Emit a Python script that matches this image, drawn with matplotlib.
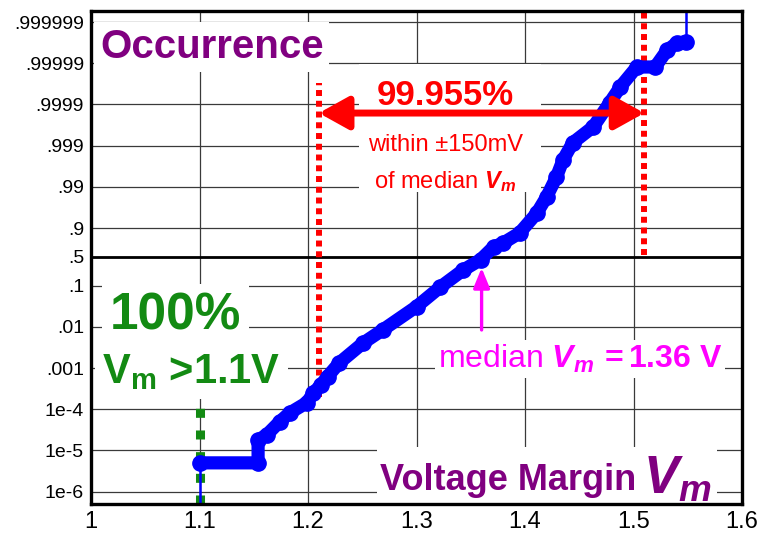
import numpy as np
import matplotlib
matplotlib.use("Agg")
import matplotlib.pyplot as plt
from matplotlib.patches import Rectangle

plt.rcParams["font.family"] = ["Liberation Sans", "DejaVu Sans"]
plt.rcParams["mathtext.fontset"] = "custom"
plt.rcParams["mathtext.rm"] = "Liberation Sans"
plt.rcParams["mathtext.it"] = "Liberation Sans:italic"
plt.rcParams["mathtext.bf"] = "Liberation Sans:bold"
plt.rcParams["mathtext.bfit"] = "Liberation Sans:italic:bold"

# Cumulative occurrence of the voltage margin
margin_v = [1.100, 1.154, 1.154, 1.162, 1.174, 1.183, 1.199, 1.205, 1.212, 1.218,
            1.229, 1.251, 1.269, 1.300, 1.322, 1.343, 1.359, 1.371, 1.380, 1.395,
            1.411, 1.420, 1.429, 1.435, 1.444, 1.463, 1.478, 1.488, 1.503, 1.520,
            1.531, 1.540, 1.548]
occurrence = [5.0e-6, 5.0e-6, 1.8e-5, 2.4e-5, 5.0e-5, 8.1e-5, 1.45e-4, 2.5e-4, 3.9e-4, 6.2e-4,
              1.35e-3, 4.1e-3, 8.5e-3, 0.031, 0.093, 0.317, 0.46, 0.637, 0.694, 0.831,
              0.957, 0.9826, 0.99425, 0.99776, 0.99915, 0.999653, 0.999909, 0.999963, 0.9999877, 0.9999877,
              0.9999952, 0.9999968, 0.9999970]

median_v = 1.36
window_v = 0.150
within_pct = "99.955%"
min_v = 1.1

x_ticks = [1.0, 1.1, 1.2, 1.3, 1.4, 1.5, 1.6]
x_tick_labels = ["1", "1.1", "1.2", "1.3", "1.4", "1.5", "1.6"]
y_ticks = [1e-6, 1e-5, 1e-4, 1e-3, 0.01, 0.1, 0.5, 0.9, 0.99, 0.999, 0.9999, 0.99999, 0.999999]
y_tick_labels = ["1e-6", "1e-5", "1e-4", ".001", ".01", ".1", ".5", ".9", ".99", ".999",
                 ".9999", ".99999", ".999999"]

BLUE = "#0000ff"
RED = "#ff0000"
MAGENTA = "#ff00ff"
GREEN = "#138a13"
PURPLE = "#800080"


# Probability axis: decades in both tails, linear across the centre
def prob_forward(p):
    p = np.clip(np.asarray(p, dtype=float), 1e-15, 1 - 1e-15)
    with np.errstate(all="ignore"):
        lo = np.log10(p) + 0.3
        hi = -np.log10(1 - p) - 0.3
    mid = (p - 0.5) * 1.75
    return np.where(p <= 0.1, lo, np.where(p >= 0.9, hi, mid))


def prob_inverse(u):
    u = np.asarray(u, dtype=float)
    with np.errstate(all="ignore"):
        lo = 10 ** (u - 0.3)
        hi = 1 - 10 ** (-(u + 0.3))
    mid = 0.5 + u / 1.75
    return np.where(u <= -0.7, lo, np.where(u >= 0.7, hi, mid))


fig = plt.figure(figsize=(7.71, 5.38), dpi=100)
ax = fig.add_axes([91 / 771, 34 / 538, 651 / 771, 493 / 538])
ax.set_yscale("function", functions=(prob_forward, prob_inverse))
ax.set_xlim(1.0, 1.6)
ax.set_ylim(float(prob_inverse(-6.0)), float(prob_inverse(5.97)))

ax.set_xticks(x_ticks)
ax.set_xticklabels(x_tick_labels, fontsize=17)
ax.set_yticks(y_ticks)
ax.set_yticklabels(y_tick_labels, fontsize=14)
ax.minorticks_off()
ax.tick_params(axis="both", length=0)
ax.tick_params(axis="y", pad=5)
ax.tick_params(axis="x", pad=5)

ax.set_axisbelow(True)
ax.grid(True, color="#3a3a3a", linewidth=0.9)
ax.axhline(0.5, color="black", linewidth=2.0, zorder=0.8)
for s in ax.spines.values():
    s.set_linewidth(2.4)
    s.set_color("black")
    s.set_zorder(5)

# white panels behind the annotation blocks
ax.add_patch(Rectangle((0.412, 0.633), 0.279, 0.259, transform=ax.transAxes,
                       facecolor="white", edgecolor="none", zorder=1))
ax.add_patch(Rectangle((0.439, 0.0), 0.523, 0.116, transform=ax.transAxes,
                       facecolor="white", edgecolor="none", zorder=1))

# +/- window around the median
ax.axvline(median_v - window_v, ymin=0.217, ymax=0.854, color=RED, lw=4.3,
           linestyle=(0, (1.0, 0.8)), dash_capstyle="butt", zorder=2)
ax.axvline(median_v + window_v, ymin=0.505, ymax=1.0, color=RED, lw=4.3,
           linestyle=(0, (1.0, 0.8)), dash_capstyle="butt", zorder=2)

# lower bound marker
ax.axvline(min_v, ymin=0.0, ymax=0.215, color=GREEN, lw=6.5,
           linestyle=(0, (1.0, 1.4)), dash_capstyle="butt", zorder=2)

# measured distribution
y0, y1 = ax.get_ylim()
ax.plot([margin_v[0], margin_v[0]], [y0, occurrence[0]], color=BLUE, lw=1.8, zorder=3)
ax.plot([margin_v[-1], margin_v[-1]], [occurrence[-1], y1], color=BLUE, lw=1.8, zorder=3)
ax.plot(margin_v, occurrence, color=BLUE, lw=9.5, solid_capstyle="round",
        solid_joinstyle="round", marker="o", markersize=11, zorder=3)

# spread arrow and text
ax.annotate("", xy=(median_v - window_v, 0.793), xytext=(median_v + window_v, 0.793),
            xycoords=("data", "axes fraction"), textcoords=("data", "axes fraction"),
            arrowprops=dict(arrowstyle="<|-|>,head_length=0.9,head_width=0.5",
                            mutation_scale=20, lw=5, color=RED, shrinkA=0, shrinkB=0),
            zorder=4)
ax.text(0.544, 0.828, within_pct, transform=ax.transAxes, ha="center", va="center",
        fontsize=25, fontweight="bold", color=RED, zorder=4)
ax.text(0.544, 0.728, "within \u00b1150mV", transform=ax.transAxes, ha="center",
        va="center", fontsize=17, color=RED, zorder=4)
ax.text(0.544, 0.655, r"of median $\mathbfit{V}_{\mathbfit{m}}$", transform=ax.transAxes,
        ha="center", va="center", fontsize=17, color=RED, zorder=4)

# median marker
ax.annotate("", xy=(median_v, 0.479), xytext=(median_v, 0.353),
            xycoords=("data", "axes fraction"), textcoords=("data", "axes fraction"),
            arrowprops=dict(arrowstyle="-|>,head_length=1.1,head_width=0.45",
                            mutation_scale=11, lw=2.4, color=MAGENTA, shrinkA=0, shrinkB=0),
            zorder=4)
ax.text(0.533, 0.276, r"median $\mathbfit{V}_{\mathbfit{m}}\,\mathbf{=1.36\ V}$",
        transform=ax.transAxes, ha="left", va="baseline", fontsize=23, color=MAGENTA,
        bbox=dict(facecolor="white", edgecolor="none", pad=2), zorder=4)

# titles inside the frame
ax.text(0.014, 0.927, "Occurrence", transform=ax.transAxes, ha="left", va="center",
        fontsize=29, fontweight="bold", color=PURPLE,
        bbox=dict(facecolor="white", edgecolor="none", pad=4), zorder=4)
ax.text(0.444, 0.028, "Voltage Margin", transform=ax.transAxes, ha="left",
        va="baseline", fontsize=26, fontweight="bold", color=PURPLE, zorder=4)
ax.text(0.848, 0.022, r"$\mathbfit{V}_{\mathbfit{m}}$", transform=ax.transAxes,
        ha="left", va="baseline", fontsize=38, color=PURPLE, zorder=4)

# lower-bound statement
ax.text(0.029, 0.353, "100%", transform=ax.transAxes, ha="left", va="baseline",
        fontsize=37, fontweight="bold", color=GREEN,
        bbox=dict(facecolor="white", edgecolor="none", pad=6), zorder=4)
ax.text(0.017, 0.245, r"$\mathbf{V_m}$ >1.1V", transform=ax.transAxes, ha="left",
        va="baseline", fontsize=30, fontweight="bold", color=GREEN,
        bbox=dict(facecolor="white", edgecolor="none", pad=5), zorder=4)

fig.savefig("out.png", dpi=100)
